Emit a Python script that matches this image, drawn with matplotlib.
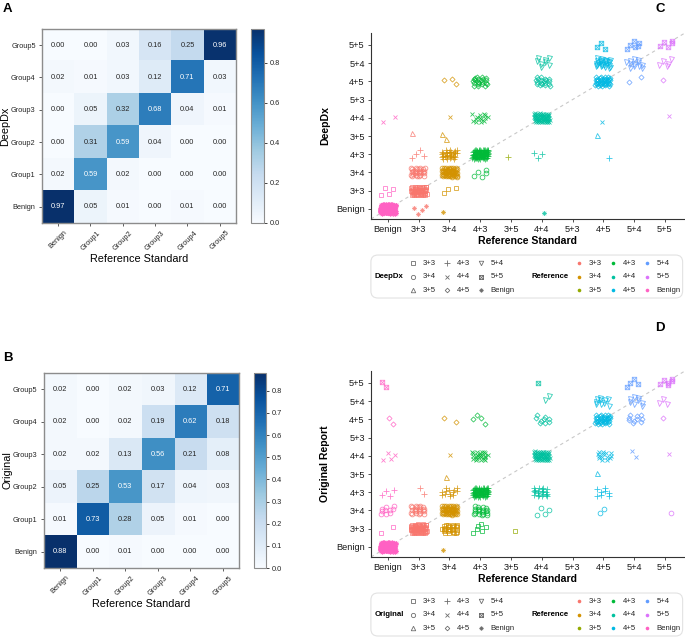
import numpy as np
import matplotlib.pyplot as plt
from matplotlib.path import Path
from matplotlib.patches import FancyBboxPatch

plt.rcParams["font.family"] = ["Liberation Sans", "DejaVu Sans"]

GROUPS = ["Benign", "Group1", "Group2", "Group3", "Group4", "Group5"]

# confusion matrices, rows top (Group5) -> bottom (Benign), cols Benign..Group5
CM_DEEPDX = [
    [0.00, 0.00, 0.03, 0.16, 0.25, 0.96],
    [0.02, 0.01, 0.03, 0.12, 0.71, 0.03],
    [0.00, 0.05, 0.32, 0.68, 0.04, 0.01],
    [0.00, 0.31, 0.59, 0.04, 0.00, 0.00],
    [0.02, 0.59, 0.02, 0.00, 0.00, 0.00],
    [0.97, 0.05, 0.01, 0.00, 0.01, 0.00],
]
CM_ORIGINAL = [
    [0.02, 0.00, 0.02, 0.03, 0.12, 0.71],
    [0.02, 0.00, 0.02, 0.19, 0.62, 0.18],
    [0.02, 0.02, 0.13, 0.56, 0.21, 0.08],
    [0.05, 0.25, 0.53, 0.17, 0.04, 0.03],
    [0.01, 0.73, 0.28, 0.05, 0.01, 0.00],
    [0.88, 0.00, 0.01, 0.00, 0.00, 0.00],
]

GLEASON = ["Benign", "3+3", "3+4", "4+3", "3+5", "4+4", "5+3", "4+5", "5+4", "5+5"]
LEGEND_ORDER = ["3+3", "3+4", "3+5", "4+3", "4+4", "4+5", "5+4", "5+5", "Benign"]
HUE = ["#F8766D", "#D39200", "#93AA00", "#00BA38", "#00C19F",
       "#00B9E3", "#619CFF", "#DB72FB", "#FF61C3"]

# panel C: reference grade, DeepDx grade, number of cases
C_REF = ["Benign", "Benign", "Benign",
         "3+3", "3+3", "3+3", "3+3", "3+3",
         "3+4", "3+4", "3+4", "3+4", "3+4", "3+4", "3+4",
         "4+3", "4+3", "4+3", "4+3",
         "3+5",
         "4+4", "4+4", "4+4", "4+4", "4+4",
         "4+5", "4+5", "4+5", "4+5", "4+5", "4+5",
         "5+4", "5+4", "5+4",
         "5+5", "5+5", "5+5", "5+5"]
C_PRED = ["Benign", "3+3", "4+4",
          "Benign", "3+3", "3+4", "4+3", "3+5",
          "Benign", "3+3", "3+4", "4+3", "3+5", "4+4", "4+5",
          "3+4", "4+3", "4+4", "4+5",
          "4+3",
          "Benign", "4+3", "4+4", "4+5", "5+4",
          "4+3", "3+5", "4+4", "4+5", "5+4", "5+5",
          "4+5", "5+4", "5+5",
          "4+4", "4+5", "5+4", "5+5"]
C_N = [204, 4, 2,
       4, 51, 27, 4, 1,
       1, 3, 59, 32, 2, 1, 3,
       5, 82, 14, 22,
       1,
       1, 3, 71, 19, 8,
       1, 1, 1, 40, 25, 3,
       2, 12, 6,
       1, 1, 5, 5]

# panel D: reference grade, original report grade, number of cases
D_REF = ["Benign", "Benign", "Benign", "Benign", "Benign", "Benign", "Benign",
         "3+3", "3+3", "3+3",
         "3+4", "3+4", "3+4", "3+4", "3+4", "3+4", "3+4",
         "4+3", "4+3", "4+3", "4+3", "4+3",
         "3+5",
         "4+4", "4+4", "4+4", "4+4", "4+4", "4+4",
         "4+5", "4+5", "4+5", "4+5", "4+5", "4+5",
         "5+4", "5+4", "5+4", "5+4",
         "5+5", "5+5", "5+5", "5+5", "5+5"]
D_PRED = ["Benign", "3+3", "3+4", "4+3", "4+4", "4+5", "5+5",
          "3+3", "3+4", "4+3",
          "Benign", "3+3", "3+4", "4+3", "3+5", "4+4", "4+5",
          "3+3", "3+4", "4+3", "4+4", "4+5",
          "3+3",
          "3+4", "4+3", "4+4", "4+5", "5+4", "5+5",
          "3+4", "4+3", "3+5", "4+4", "4+5", "5+4",
          "4+4", "4+5", "5+4", "5+5",
          "3+4", "4+4", "4+5", "5+4", "5+5"]
D_N = [185, 2, 10, 4, 4, 2, 2,
       63, 22, 2,
       1, 28, 54, 13, 1, 1, 2,
       6, 20, 67, 23, 4,
       1,
       4, 21, 62, 9, 2, 1,
       2, 8, 1, 14, 36, 10,
       2, 10, 8, 4,
       1, 1, 1, 3, 6]

_M, _L, _C = Path.MOVETO, Path.LINETO, Path.CLOSEPOLY
SQUARE_X = Path([(-1, -1), (1, -1), (1, 1), (-1, 1), (-1, -1),
                 (-1, -1), (1, 1), (-1, 1), (1, -1)],
                [_M, _L, _L, _L, _C, _M, _L, _M, _L])
_r = 0.7071
ASTERISK = Path([(-1, 0), (1, 0), (0, -1), (0, 1),
                 (-_r, -_r), (_r, _r), (-_r, _r), (_r, -_r)],
                [_M, _L, _M, _L, _M, _L, _M, _L])

SHAPES = {"3+3": "s", "3+4": "o", "3+5": "^", "4+3": "+", "4+4": "x",
          "4+5": "D", "5+4": "v", "5+5": SQUARE_X, "Benign": ASTERISK}
SIZES = {"3+3": 3.0, "3+4": 3.4, "3+5": 3.6, "4+3": 4.2, "4+4": 3.4,
         "4+5": 2.6, "5+4": 3.6, "5+5": 3.2, "Benign": 3.6}
COLORS = dict(zip(LEGEND_ORDER, HUE))

TEXT_DARK = "#262626"


def draw_matrix(ax, cax, mat, ylabel):
    mat = np.array(mat)
    vmax = mat.max()
    im = ax.imshow(mat, cmap="Blues", vmin=0, vmax=vmax, aspect="auto")
    for i in range(mat.shape[0]):
        for j in range(mat.shape[1]):
            v = mat[i, j]
            ax.text(j, i, f"{v:.2f}", ha="center", va="center", fontsize=5.3,
                    color="white" if v > vmax / 2 else TEXT_DARK)
    ax.set_xticks(range(len(GROUPS)))
    ax.set_xticklabels(GROUPS, rotation=45, fontsize=5.3, color=TEXT_DARK)
    ax.set_yticks(range(len(GROUPS)))
    ax.set_yticklabels(GROUPS[::-1], fontsize=5.3, color=TEXT_DARK)
    ax.tick_params(length=2.5, width=0.6, color="#444444", pad=2)
    for s in ax.spines.values():
        s.set_color("#8c8c8c")
        s.set_linewidth(1.0)
    ax.set_xlabel("Reference Standard", fontsize=7.8, labelpad=2)
    ax.set_ylabel(ylabel, fontsize=7.8, labelpad=0.5)
    cb = plt.colorbar(im, cax=cax)
    cb.outline.set_edgecolor("#8c8c8c")
    cb.outline.set_linewidth(0.8)
    cax.tick_params(labelsize=5.3, length=2.5, width=0.6, colors=TEXT_DARK, pad=1.5)


def draw_jitter(ax, refs, preds, counts, ylabel):
    for r, p, n in zip(refs, preds, counts):
        xi, yi = GLEASON.index(r), GLEASON.index(p)
        k = np.arange(1, n + 1)
        off = 0.173 * xi + 0.291 * yi
        dx = (np.mod(off + k * 0.7548776662, 1) - 0.5) * 0.52
        dy = (np.mod(off * 1.7 + k * 0.5698402910, 1) - 0.5) * 0.52
        ax.plot(xi + dx, yi + dy, ls="none", marker=SHAPES[p], ms=SIZES[p],
                mfc="none", mec=COLORS[r], mew=0.6, alpha=0.8)
    ax.axline((0, 0), (1, 1), color="#c8c8c8", ls=(0, (3, 3)), lw=0.8, zorder=0)
    ax.set_xticks(range(len(GLEASON)))
    ax.set_xticklabels(GLEASON)
    ax.set_yticks(range(len(GLEASON)))
    ax.set_yticklabels(GLEASON)
    ax.set_xlim(-0.55, 9.62)
    ax.set_ylim(-0.55, 9.65)
    ax.spines["top"].set_visible(False)
    ax.spines["right"].set_visible(False)
    for s in ("left", "bottom"):
        ax.spines[s].set_color("#333333")
        ax.spines[s].set_linewidth(0.8)
    ax.tick_params(labelsize=6.6, length=2.5, width=0.6, color="#333333",
                   labelcolor="#1a1a1a", pad=2)
    ax.set_xlabel("Reference Standard", fontsize=7.6, fontweight="bold", labelpad=1)
    ax.set_ylabel(ylabel, fontsize=7.6, fontweight="bold", labelpad=4)


def draw_legend(fig, rect, title):
    lax = fig.add_axes(rect)
    lax.set_xlim(0, 314)
    lax.set_ylim(45, 0)
    lax.axis("off")
    lax.add_patch(FancyBboxPatch((1, 1), 312, 43,
                                 boxstyle="round,pad=0,rounding_size=7",
                                 fc="white", ec="#e2e2e2", lw=0.8, clip_on=False))
    lax.text(5, 22.5, title, fontsize=5.6, fontweight="bold", va="center")
    lax.text(162, 22.5, "Reference", fontsize=5.6, fontweight="bold", va="center")
    for i, g in enumerate(LEGEND_ORDER):
        col, row = divmod(i, 3)
        y = 9 + 13.5 * row
        x1 = 43 + 34 * col
        lax.plot(x1, y, ls="none", marker=SHAPES[g], ms=SIZES[g] * 0.9,
                 mfc="none", mec="#6e6e6e", mew=0.6)
        lax.text(x1 + 10, y, g, fontsize=5.6, va="center", color=TEXT_DARK)
        x2 = 209 + 34 * col
        lax.plot(x2, y, ls="none", marker="o", ms=2.6, mfc=COLORS[g], mec="none")
        lax.text(x2 + 10, y, g, fontsize=5.6, va="center", color=TEXT_DARK)


def main():
    fig = plt.figure(figsize=(6.85, 6.37), dpi=100)

    ax_a = fig.add_axes([0.0613, 0.650, 0.283, 0.3046])
    cax_a = fig.add_axes([0.366, 0.650, 0.019, 0.3046])
    draw_matrix(ax_a, cax_a, CM_DEEPDX, "DeepDx")

    ax_b = fig.add_axes([0.064, 0.1083, 0.285, 0.306])
    cax_b = fig.add_axes([0.371, 0.1083, 0.017, 0.306])
    draw_matrix(ax_b, cax_b, CM_ORIGINAL, "Original")

    ax_c = fig.add_axes([0.5416, 0.6562, 0.457, 0.292])
    draw_jitter(ax_c, C_REF, C_PRED, C_N, "DeepDx")
    draw_legend(fig, [0.540, 0.5306, 0.458, 0.0706], "DeepDx")

    ax_d = fig.add_axes([0.5416, 0.1256, 0.457, 0.292])
    draw_jitter(ax_d, D_REF, D_PRED, D_N, "Original Report")
    draw_legend(fig, [0.540, 0.0, 0.458, 0.0706], "Original")

    for lab, x, y in [("A", 0.004, 0.995), ("B", 0.004, 0.448),
                      ("C", 0.957, 0.995), ("D", 0.957, 0.495)]:
        fig.text(x, y, lab, fontsize=9.5, fontweight="bold", va="top", ha="left")

    fig.savefig("out.png", dpi=100)


if __name__ == "__main__":
    main()
